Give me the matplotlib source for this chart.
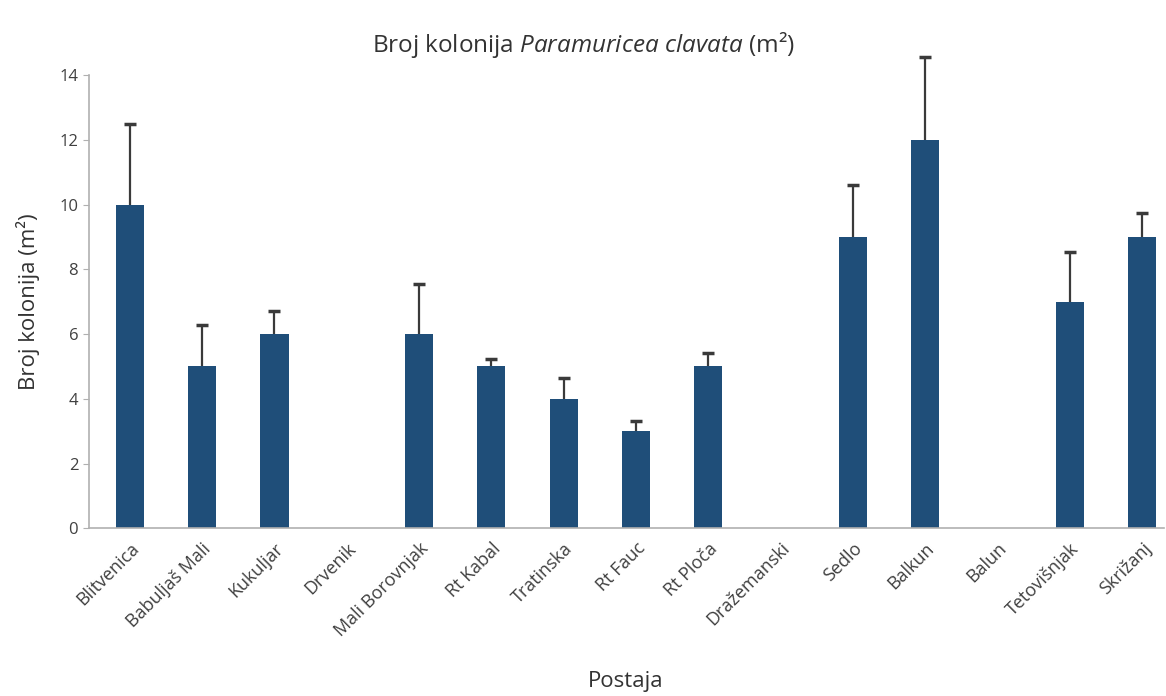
import numpy as np
import matplotlib.pyplot as plt

# data
postaje = ["Blitvenica", "Babuljaš Mali", "Kukuljar", "Drvenik", "Mali Borovnjak",
           "Rt Kabal", "Tratinska", "Rt Fauc", "Rt Ploča", "Dražemanski",
           "Sedlo", "Balkun", "Balun", "Tetovišnjak", "Skrižanj"]
kolonije = [10, 5, 6, 0, 6, 5, 4, 3, 5, 0, 9, 12, 0, 7, 9]
greska = [2.5, 1.27, 0.7, 0, 1.55, 0.22, 0.63, 0.3, 0.42, 0, 1.6, 2.55, 0, 1.55, 0.75]

plt.rcParams['font.family'] = ['Open Sans', 'DejaVu Sans']
plt.rcParams['mathtext.fontset'] = 'custom'
plt.rcParams['mathtext.rm'] = 'Open Sans'
plt.rcParams['mathtext.it'] = 'Open Sans:italic'

fig = plt.figure(figsize=(11.66, 6.96), dpi=100)
ax = fig.add_axes([0.076, 0.241, 0.922, 0.651])

x = np.arange(len(postaje))
ax.bar(x, kolonije, width=0.39, color="#1f4e79", zorder=2)

# only upper error bars, no cap at bar top
mask = np.array(greska) > 0
_, caps, _ = ax.errorbar(x[mask], np.array(kolonije)[mask],
                         yerr=[np.zeros(mask.sum()), np.array(greska)[mask]],
                         fmt="none", ecolor="#3a3a3a", elinewidth=1.6, capsize=4,
                         capthick=2.5, zorder=3, clip_on=False)
caps[0].set_visible(False)
for c in caps:
    c.set_clip_on(False)

ax.set_ylim(0, 14)
ax.set_yticks(range(0, 15, 2))
ax.set_xlim(-0.57, 14.3)
ax.set_xticks(x)
ax.set_xticklabels(postaje, rotation=45, ha="right", rotation_mode="anchor", fontsize=13)
ax.tick_params(axis="x", length=0, pad=8)
ax.tick_params(axis="y", length=4, color="#b0b0b0", labelsize=12, labelcolor="#404040")
for lab in ax.get_xticklabels():
    lab.set_color("#404040")

for s in ["top", "right"]:
    ax.spines[s].set_visible(False)
ax.spines["left"].set_color("#b0b0b0")
ax.spines["bottom"].set_color("#b0b0b0")
ax.spines["left"].set_linewidth(1.2)
ax.spines["bottom"].set_linewidth(1.2)

ax.set_ylabel("Broj kolonija (m²)", fontsize=16, color="#333333", labelpad=14)
ax.set_xlabel("Postaja", fontsize=16, color="#333333", labelpad=22)
fig.text(0.5, 0.935, r"Broj kolonija $\it{Paramuricea\ clavata}$ (m²)",
         ha="center", va="center", fontsize=17.5, color="#333333")

fig.savefig("out.png", dpi=100)
